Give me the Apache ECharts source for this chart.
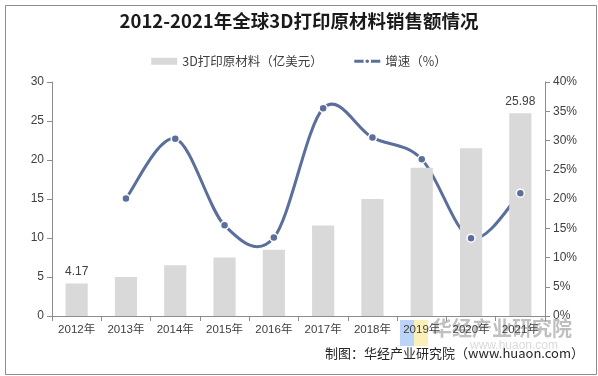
<!DOCTYPE html>
<html>
<head>
<meta charset="utf-8">
<script src="https://cdn.jsdelivr.net/npm/echarts@6/dist/echarts.min.js"></script>
<style>
  html, body { margin: 0; padding: 0; background: #fff; }
  #chart { width: 598px; height: 376px; }
</style>
</head>
<body>
<div id="chart"></div>
<script>
const years = ['2012年', '2013年', '2014年', '2015年', '2016年', '2017年', '2018年', '2019年', '2020年', '2021年']
const sales = [4.17, 5.0, 6.5, 7.5, 8.5, 11.6, 15.0, 19.0, 21.5, 25.98]
const growth = [null, 20.1, 30.3, 15.5, 13.4, 35.5, 30.5, 26.8, 13.3, 21.0]
const labelledBars = [0, 9] // only first and last bar carry a value label

const gray = '#d9d9d9'
const blue = '#5b6f9c'
const text = '#404040'
const font = '"Noto Sans CJK SC", "Liberation Sans", sans-serif'
const latin = '"Liberation Sans", "Noto Sans CJK SC", sans-serif'

const chart = echarts.init(document.getElementById('chart'))

// excel-like smoothing (catmull-rom), lets the curve overshoot between points
function renderCurve(params, api) {
  const i = api.value(0)
  if (growth[i + 1] == null) return
  const p = k => api.coord([k, growth[k]])
  const p1 = p(i), p2 = p(i + 1)
  const p0 = growth[i - 1] != null ? p(i - 1) : p1
  const p3 = growth[i + 2] != null ? p(i + 2) : p2
  return {
    type: 'bezierCurve',
    shape: {
      x1: p1[0], y1: p1[1], x2: p2[0], y2: p2[1],
      cpx1: p1[0] + (p2[0] - p0[0]) / 6, cpy1: p1[1] + (p2[1] - p0[1]) / 6,
      cpx2: p2[0] - (p3[0] - p1[0]) / 6, cpy2: p2[1] - (p3[1] - p1[1]) / 6
    },
    style: { stroke: blue, lineWidth: 3, fill: 'none' }
  }
}

const option = {
  animation: false,
  textStyle: { fontFamily: font },
  title: {
    text: '2012-2021年全球3D打印原材料销售额情况',
    left: 'center',
    top: 7,
    textStyle: { fontSize: 18.5, fontWeight: 'bold', color: '#1a1a1a', fontFamily: font }
  },
  legend: {
    top: 50,
    left: 'center',
    itemGap: 30,
    textStyle: { fontSize: 12.5, color: text },
    data: [
      { name: '3D打印原材料（亿美元）', icon: 'rect', itemStyle: { color: gray } },
      { name: '增速（%）', lineStyle: { opacity: 1, width: 3, color: blue } }
    ],
    itemWidth: 26,
    itemHeight: 7
  },
  grid: { left: 52, right: 53, top: 82, bottom: 60 },
  xAxis: {
    type: 'category',
    data: years,
    axisLine: { lineStyle: { color: '#8c8c8c' } },
    axisTick: { show: true, interval: 0, lineStyle: { color: '#8c8c8c' } },
    axisLabel: { color: text, fontSize: 11.5, margin: 8, interval: 0, fontFamily: latin }
  },
  yAxis: [
    {
      type: 'value',
      min: 0, max: 30, interval: 5,
      axisLine: { show: true, lineStyle: { color: '#8c8c8c' } },
      axisTick: { show: true, lineStyle: { color: '#8c8c8c' } },
      axisLabel: { color: text, fontSize: 12, fontFamily: latin },
      splitLine: { show: false }
    },
    {
      type: 'value',
      min: 0, max: 40, interval: 5,
      axisLine: { show: true, lineStyle: { color: '#8c8c8c' } },
      axisTick: { show: true, lineStyle: { color: '#8c8c8c' } },
      axisLabel: { color: text, fontSize: 12, formatter: '{value}%', fontFamily: latin },
      splitLine: { show: false }
    }
  ],
  series: [
    {
      name: '3D打印原材料（亿美元）',
      type: 'bar',
      barWidth: '45%',
      itemStyle: { color: gray },
      data: sales.map((v, i) => ({
        value: v,
        label: {
          show: labelledBars.includes(i),
          position: 'top',
          color: text,
          fontSize: 12,
          distance: 6,
          fontFamily: latin
        }
      }))
    },
    {
      name: 'curve',
      type: 'custom',
      yAxisIndex: 1,
      renderItem: renderCurve,
      encode: { x: 0, y: 1 },
      data: growth.map((v, i) => [i, v]).filter(d => d[1] != null),
      silent: true
    },
    {
      name: '增速（%）',
      type: 'line',
      yAxisIndex: 1,
      symbol: 'circle',
      symbolSize: 8,
      lineStyle: { color: blue, width: 3, opacity: 0 },
      itemStyle: { color: blue, borderColor: '#fff', borderWidth: 1.5 },
      data: growth,
      z: 3
    }
  ],
  graphic: [
    {
      type: 'rect',
      left: 3, top: 3,
      shape: { width: 591, height: 369 },
      style: { fill: 'none', stroke: '#8c8c8c', lineWidth: 1 },
      silent: true
    },
    {
      type: 'rect', left: 400, top: 320,
      shape: { width: 14, height: 26 },
      style: { fill: 'rgba(120,170,240,0.5)' }, silent: true
    },
    {
      type: 'rect', left: 414, top: 320,
      shape: { width: 14, height: 26 },
      style: { fill: 'rgba(250,230,140,0.6)' }, silent: true
    },
    {
      type: 'text', left: 432, top: 318,
      style: { text: '华经产业研究院', fill: 'rgba(140,140,140,0.55)', font: 'bold 20px "Noto Sans CJK SC"' },
      silent: true
    },
    {
      type: 'text', left: 470, top: 340,
      style: { text: 'www.huaon.com', fill: 'rgba(160,160,160,0.4)', font: '12px "Liberation Sans"' },
      silent: true
    },
    {
      type: 'text', right: 14, top: 347,
      style: { text: '制图：华经产业研究院（www.huaon.com）', fill: '#262626', font: '13px "Noto Sans CJK SC"' },
      silent: true
    }
  ]
}

chart.setOption(option)
</script>
</body>
</html>
